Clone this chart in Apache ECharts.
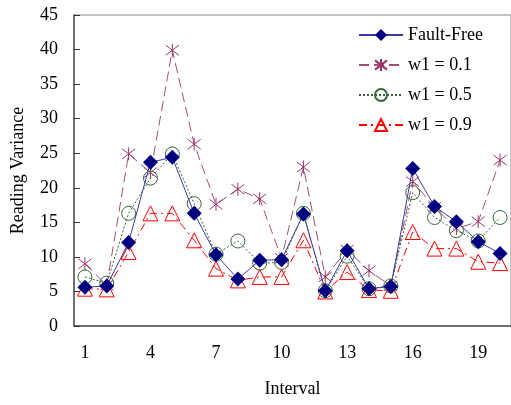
<!DOCTYPE html>
<html>
<head>
<meta charset="utf-8">
<script src="https://cdn.jsdelivr.net/npm/echarts@6/dist/echarts.min.js"></script>
<style>
  html, body { margin: 0; padding: 0; background: #fff; }
  #chart { width: 511px; height: 405px; }
</style>
</head>
<body>
<div id="chart"></div>
<script>
const intervals = ["1", "2", "3", "4", "5", "6", "7", "8", "9", "10",
  "11", "12", "13", "14", "15", "16", "17", "18", "19", "20"];
const faultFree = [5.6, 5.8, 12.1, 23.7, 24.4, 16.3, 10.3, 6.8, 9.5, 9.6,
  16.2, 5.1, 10.9, 5.4, 5.7, 22.8, 17.3, 15.1, 12.2, 10.5];
const w01 = [9.0, 5.9, 24.9, 22.2, 39.9, 26.3, 17.6, 19.8, 18.4, 9.8,
  23.0, 7.1, 11.0, 8.0, 5.8, 20.9, 17.2, 14.1, 15.1, 24.0];
const w05 = [7.1, 6.2, 16.3, 21.4, 24.9, 17.7, 10.4, 12.3, 9.1, 9.2,
  16.3, 5.1, 10.1, 5.4, 5.8, 19.3, 15.7, 13.8, 12.3, 15.7];
const w09 = [5.4, 5.3, 10.7, 16.3, 16.3, 12.4, 8.3, 6.6, 7.1, 7.1,
  12.4, 5.0, 7.8, 5.2, 5.1, 13.6, 11.2, 11.2, 9.3, 9.1];

const serif = "Liberation Serif";
const asterisk = "path://M-10,-10L10,10M-10,10L10,-10M0,-13L0,13";

const chart = echarts.init(document.getElementById("chart"));
chart.setOption({
  animation: false,
  grid: {
    left: 74, top: 15, width: 440, height: 311,
    show: true, borderColor: "#888", borderWidth: 1
  },
  legend: {
    orient: "vertical",
    left: 353, top: 21,
    itemWidth: 44, itemHeight: 15, itemGap: 12,
    textStyle: { fontFamily: serif, fontSize: 18, color: "#000" },
    data: ["Fault-Free", "w1 = 0.1", "w1 = 0.5", "w1 = 0.9"]
  },
  xAxis: {
    type: "category",
    data: intervals,
    boundaryGap: true,
    name: "Interval",
    nameLocation: "middle",
    nameGap: 54,
    nameTextStyle: { fontFamily: serif, fontSize: 18, color: "#000" },
    axisLine: { lineStyle: { color: "#555", width: 1.5 } },
    axisTick: { inside: true, length: 6, interval: 0, lineStyle: { color: "#333" } },
    axisLabel: { interval: 2, margin: 18, fontFamily: serif, fontSize: 18, color: "#000" },
    splitLine: { show: false }
  },
  yAxis: {
    type: "value",
    min: 0, max: 45, interval: 5,
    name: "Reading Variance",
    nameLocation: "middle",
    nameGap: 47,
    nameTextStyle: { fontFamily: serif, fontSize: 18, color: "#000" },
    axisLine: { show: true, lineStyle: { color: "#555", width: 1.5 } },
    axisTick: { show: true, inside: true, length: 6, lineStyle: { color: "#333" } },
    axisLabel: { margin: 16, fontFamily: serif, fontSize: 18, color: "#000" },
    splitLine: { show: false }
  },
  series: [
    {
      name: "Fault-Free", type: "line", data: faultFree,
      symbol: "diamond", symbolSize: 15, showAllSymbol: true,
      itemStyle: { color: "#000080" },
      lineStyle: { color: "#3a3aa0", width: 1 },
      z: 5
    },
    {
      name: "w1 = 0.1", type: "line", data: w01,
      symbol: asterisk, symbolSize: 13, showAllSymbol: true,
      itemStyle: { color: "transparent", borderColor: "#993366", borderWidth: 1 },
      lineStyle: { color: "#a34d7a", width: 1, type: [10, 5] },
      z: 2
    },
    {
      name: "w1 = 0.5", type: "line", data: w05,
      symbol: "circle", symbolSize: 14, showAllSymbol: true,
      itemStyle: { color: "transparent", borderColor: "#336633", borderWidth: 1 },
      lineStyle: { color: "#336633", width: 1, type: [2, 2] },
      z: 3
    },
    {
      name: "w1 = 0.9", type: "line", data: w09,
      symbol: "triangle", symbolSize: 15, showAllSymbol: true,
      itemStyle: { color: "transparent", borderColor: "#ff0000", borderWidth: 1 },
      lineStyle: { color: "#ff0000", width: 1, type: [8, 4, 2, 4] },
      z: 4
    }
  ]
});
</script>
</body>
</html>
